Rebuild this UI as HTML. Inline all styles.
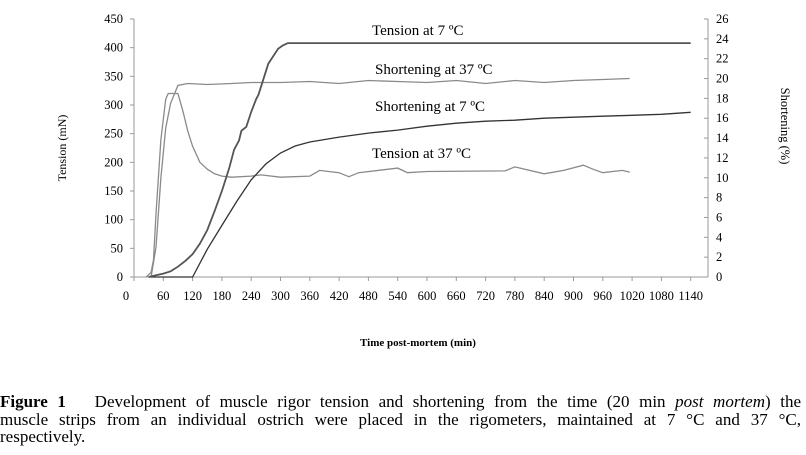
<!DOCTYPE html>
<html><head><meta charset="utf-8"><style>
body{margin:0;background:#fff;width:806px;height:455px;overflow:hidden;font-family:"Liberation Serif",serif}
#cap{position:absolute;left:0;top:393px;width:801px;font-size:17px;line-height:17.5px;color:#000}
#cap div{white-space:nowrap;text-align:justify;text-align-last:justify}
#cap div.last{text-align-last:left}
</style></head><body>
<svg id="chart" width="806" height="380" style="position:absolute;left:0;top:0" font-family="Liberation Serif, serif">
<g id="axes"></g><g id="series"></g><g id="labels"></g>
</svg>
<div id="cap">
<div><b>Figure 1</b>&nbsp;&nbsp; Development of muscle rigor tension and shortening from the time (20 min <i>post mortem</i>) the</div>
<div>muscle strips from an individual ostrich were placed in the rigometers, maintained at 7 °C and 37 °C,</div>
<div class="last">respectively.</div>
</div>
<script>
const xTicks=[0,60,120,180,240,300,360,420,480,540,600,660,720,780,840,900,960,1020,1080,1140];
const yLeftTicks=[0,50,100,150,200,250,300,350,400,450];
const yRightTicks=[0,2,4,6,8,10,12,14,16,18,20,22,24,26];
const tension7T=[30,45,60,75,90,105,120,135,150,165,180,195,205,215,220,230,240,250,255,265,275,285,295,305,315,325,1140];
const tension7V=[0,3,6,10,18,28,40,58,82,115,150,190,222,238,255,262,288,310,318,345,372,385,398,404,408,408,408];
const tension37T=[25,35,40,45,55,65,70,90,100,110,120,135,150,165,180,200,240,260,300,360,380,420,440,460,540,560,600,760,780,840,880,920,940,960,980,1000,1015];
const tension37V=[0,8,30,110,240,310,320,320,290,255,228,200,188,180,176,174,176,178,174,176,186,182,175,182,190,182,184,185,192,180,186,195,188,182,184,186,183];
const short37T=[35,45,55,65,75,90,110,150,200,240,300,360,420,480,540,600,660,720,780,840,900,960,1015];
const short37V=[0,3,10,15,17.5,19.3,19.5,19.4,19.5,19.6,19.6,19.7,19.5,19.8,19.7,19.6,19.8,19.5,19.8,19.6,19.8,19.9,20];
const short7T=[30,120,150,180,210,240,270,300,330,360,420,480,540,600,660,720,780,840,900,960,1020,1080,1140];
const short7V=[0,0,2.8,5.2,7.6,9.8,11.4,12.5,13.2,13.6,14.1,14.5,14.8,15.2,15.5,15.7,15.8,16,16.1,16.2,16.3,16.4,16.6];
const NS='http://www.w3.org/2000/svg';
const X0=134,XW=29.3/60,YB=277,YT=19;
const xs=t=>X0+t*XW, yL=v=>YB-(YB-YT)*v/450, yR=v=>YB-(YB-YT)*v/26;
function mk(tag,attrs,parent,txt){const e=document.createElementNS(NS,tag);for(const k in attrs)e.setAttribute(k,attrs[k]);if(txt!==undefined)e.textContent=txt;document.getElementById(parent).appendChild(e);return e;}
const ax=mk('line',{x1:X0,y1:YB,x2:708,y2:YB,stroke:'#999'},'axes');


const la=mk('line',{x1:X0,y1:YT,x2:X0,y2:YB,stroke:'#999'},'axes');


const ra=mk('line',{x1:708,y1:YT,x2:708,y2:YB,stroke:'#999'},'axes');


xTicks.forEach(t=>{mk('line',{x1:xs(t),y1:YB,x2:xs(t),y2:YB+4,stroke:'#999'},'axes');
const l=mk('text',{x:t===0?xs(t)-8:xs(t),y:300,'font-size':12.5,'text-anchor':'middle'},'axes',t);

});
yLeftTicks.forEach(v=>{mk('line',{x1:X0-4,y1:yL(v),x2:X0,y2:yL(v),stroke:'#999'},'axes');
const l=mk('text',{x:123,y:yL(v)+4,'font-size':12.5,'text-anchor':'end'},'axes',v);

});
yRightTicks.forEach(v=>{mk('line',{x1:704,y1:yR(v),x2:708,y2:yR(v),stroke:'#999'},'axes');
const l=mk('text',{x:716,y:yR(v)+4,'font-size':12.5},'axes',v);

});
function line(T,V,fy,col,w,name){const d=T.map((t,i)=>(i?'L':'M')+xs(t).toFixed(1)+','+fy(V[i]).toFixed(1)).join('');
const p=mk('path',{d:d,fill:'none',stroke:col,'stroke-width':w},'series');

}
line(short37T,short37V,yR,'#8a8a8a',1.3,'shortening-37-line');
line(tension37T,tension37V,yL,'#8a8a8a',1.3,'tension-37-line');
line(short7T,short7V,yR,'#333',1.3,'shortening-7-line');
line(tension7T,tension7V,yL,'#555',1.8,'tension-7-line');
function lab(x,y,txt,name,extra){const e=mk('text',Object.assign({x:x,y:y,'font-size':15},extra||{}),'labels',txt);

return e;}
lab(372,35,'Tension at 7 ºC','label-tension-7');
lab(375,74,'Shortening at 37 ºC','label-shortening-37');
lab(375,111,'Shortening at 7 ºC','label-shortening-7');
lab(372,158,'Tension at 37 ºC','label-tension-37');
lab(418,346,'Time post-mortem (min)','x-axis-title',{'font-size':11,'font-weight':'bold','text-anchor':'middle'});
lab(0,0,'Tension (mN)','left-y-axis-title',{'font-size':12,'text-anchor':'middle',transform:'translate(66,148) rotate(-90)'});
lab(0,0,'Shortening (%)','right-y-axis-title',{'font-size':12.5,'text-anchor':'middle',transform:'translate(781,126) rotate(90)'});
</script>
</body></html>
